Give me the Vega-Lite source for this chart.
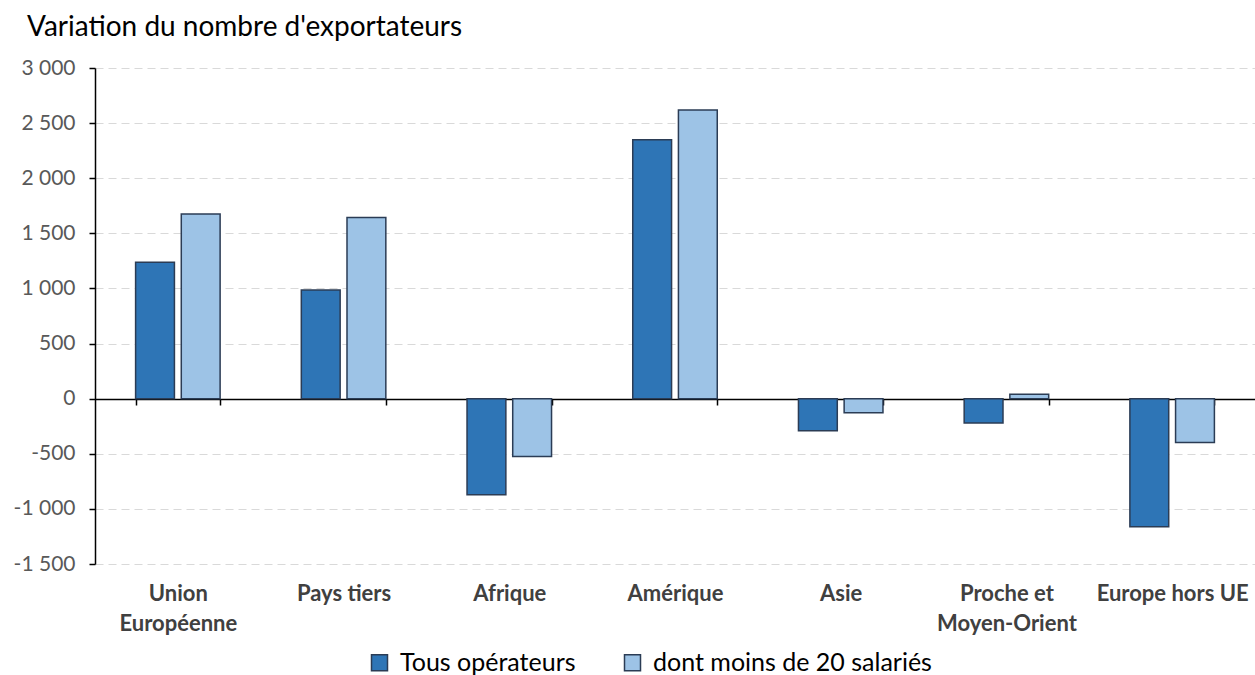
{
  "$schema": "https://vega.github.io/schema/vega-lite/v6.json",
  "width": 1160,
  "height": 496,
  "autosize": "none",
  "padding": {"left": 95, "top": 68, "right": 0, "bottom": 111},
  "background": "white",
  "config": {
    "font": "Lato",
    "view": {"stroke": null}
  },
  "title": {
    "text": "Variation du nombre d'exportateurs",
    "anchor": "start",
    "frame": "group",
    "dx": -68,
    "offset": 15,
    "fontSize": 28,
    "fontWeight": "normal",
    "color": "#000000",
    "font": "Lato"
  },
  "data": {
    "values": [
      {"region": "Union Européenne", "serie": "Tous opérateurs", "value": 1237},
      {"region": "Union Européenne", "serie": "dont moins de 20 salariés", "value": 1676},
      {"region": "Pays tiers", "serie": "Tous opérateurs", "value": 987},
      {"region": "Pays tiers", "serie": "dont moins de 20 salariés", "value": 1643},
      {"region": "Afrique", "serie": "Tous opérateurs", "value": -872},
      {"region": "Afrique", "serie": "dont moins de 20 salariés", "value": -525},
      {"region": "Amérique", "serie": "Tous opérateurs", "value": 2348},
      {"region": "Amérique", "serie": "dont moins de 20 salariés", "value": 2618},
      {"region": "Asie", "serie": "Tous opérateurs", "value": -292},
      {"region": "Asie", "serie": "dont moins de 20 salariés", "value": -127},
      {"region": "Proche et Moyen-Orient", "serie": "Tous opérateurs", "value": -220},
      {"region": "Proche et Moyen-Orient", "serie": "dont moins de 20 salariés", "value": 40},
      {"region": "Europe hors UE", "serie": "Tous opérateurs", "value": -1162},
      {"region": "Europe hors UE", "serie": "dont moins de 20 salariés", "value": -397}
    ]
  },
  "mark": {"type": "bar", "stroke": "#2b3c55", "strokeWidth": 1.5},
  "encoding": {
    "x": {
      "field": "region",
      "type": "nominal",
      "sort": null,
      "scale": {"paddingInner": 0.49, "paddingOuter": 0.245},
      "axis": {
        "title": null,
        "labelAngle": 0,
        "offset": -165,
        "tickBand": "extent",
        "tickSize": 6,
        "tickColor": "#000000",
        "tickWidth": 1.5,
        "domainColor": "#000000",
        "domainWidth": 1.5,
        "labelPadding": 178,
        "labelFont": "Lato",
        "labelFontSize": 22,
        "labelFontWeight": "bold",
        "labelColor": "#404040",
        "labelLineHeight": 30,
        "labelBaseline": "top",
        "labelLimit": 300,
        "labelExpr": "datum.value == 'Union Européenne' ? ['Union', 'Européenne'] : datum.value == 'Proche et Moyen-Orient' ? ['Proche et', 'Moyen-Orient'] : datum.value"
      }
    },
    "xOffset": {
      "field": "serie",
      "type": "nominal",
      "sort": ["Tous opérateurs", "dont moins de 20 salariés"],
      "scale": {"paddingInner": 0.15, "paddingOuter": 0}
    },
    "y": {
      "field": "value",
      "type": "quantitative",
      "scale": {"domain": [-1500, 3000], "nice": false, "zero": true},
      "axis": {
        "title": null,
        "values": [-1500, -1000, -500, 0, 500, 1000, 1500, 2000, 2500, 3000],
        "labelExpr": "(datum.value < 0 ? '-' : '') + (abs(datum.value) >= 1000 ? floor(abs(datum.value)/1000) + ' ' + format(abs(datum.value) % 1000, '03d') : format(abs(datum.value), 'd'))",
        "labelFont": "Lato",
        "labelFontSize": 21,
        "labelColor": "#595959",
        "labelPadding": 14,
        "tickSize": 6,
        "tickColor": "#000000",
        "tickWidth": 1.5,
        "domainColor": "#000000",
        "domainWidth": 1.5,
        "grid": true,
        "gridColor": "#d9d9d9",
        "gridDash": [8, 5],
        "gridWidth": 1.2
      }
    },
    "color": {
      "field": "serie",
      "type": "nominal",
      "sort": ["Tous opérateurs", "dont moins de 20 salariés"],
      "scale": {"domain": ["Tous opérateurs", "dont moins de 20 salariés"], "range": ["#2e75b6", "#9dc3e6"]},
      "legend": {
        "title": null,
        "orient": "none",
        "direction": "horizontal",
        "legendX": 272,
        "legendY": 582,
        "symbolType": "square",
        "symbolSize": 256,
        "symbolStrokeColor": "#2b3c55",
        "symbolStrokeWidth": 1.5,
        "labelFont": "Lato",
        "labelFontSize": 25,
        "labelColor": "#000000",
        "labelLimit": 500,
        "columnPadding": 44,
        "labelOffset": 8
      }
    }
  }
}
